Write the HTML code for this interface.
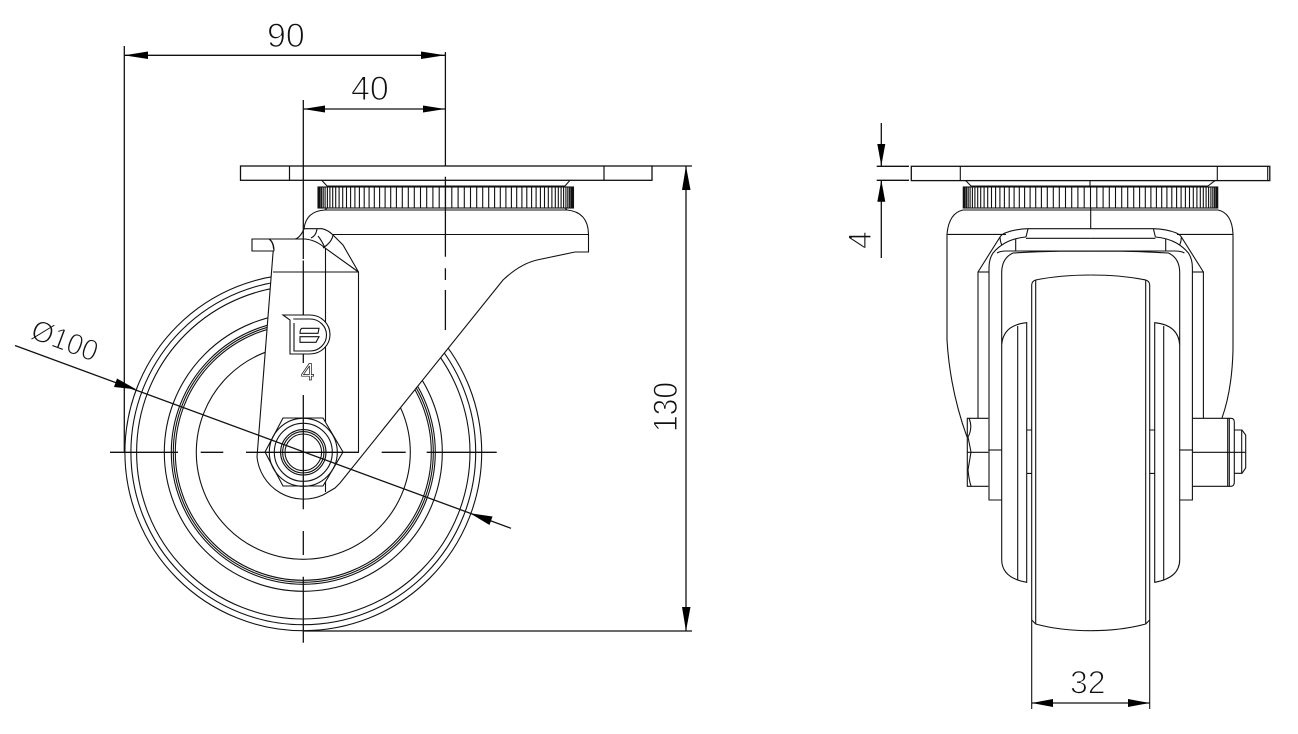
<!DOCTYPE html>
<html>
<head>
<meta charset="utf-8">
<style>
html,body{margin:0;padding:0;background:#fff;width:1298px;height:734px;overflow:hidden}
svg{display:block}
.t{font-family:"Liberation Sans",sans-serif;font-size:34px;fill:#111;stroke:#fff;stroke-width:1.1px;paint-order:fill stroke}
</style>
</head>
<body>
<svg width="1298" height="734" viewBox="0 0 1298 734" xmlns="http://www.w3.org/2000/svg">
<defs>
<path id="kn" d="M6.3 187v21M12.6 187v21M18.8 187v21M25 187v21M31.2 187v21M37.2 187v21M43.2 187v21M49.1 187v21M54.8 187v21M60.4 187v21M65.9 187v21M71.2 187v21M76.4 187v21M81.3 187v21M86.1 187v21M90.6 187v21M94.9 187v21M99 187v21M102.8 187v21M106.4 187v21M109.8 187v21M112.8 187v21M115.6 187v21M118.1 187v21M120.4 187v21M122.3 187v21M123.9 187v21M125.3 187v21M126.3 187v21M127 187v21"/>
<g id="halfR">
<path d="M1028 228.7Q1015 229 1005 233Q1001 235 1000 237L978 272V418"/>
<path d="M1026 237Q1014 238 1005 243Q998 247 993 253Q989 259 989 268V500H1001.7"/>
<path d="M1028 228.7Q1027 233 1026 237"/>
<path d="M1000 237Q1000 241 1001.7 245"/>
<path d="M978 272H989"/>
<path d="M1028 228.7H1090.7"/>
<path d="M1026 238.3H1090.7"/>
<path d="M997 253Q1000 251 1006.7 251H1090.7"/>
<path d="M1015.7 239V251"/>
<path d="M1001.7 272Q1002 258 1013 253Q1040 251.5 1060 251.2H1090.7"/>
<path d="M1001.7 272V560Q1002 578 1026.7 582.3V322.7Q1003 325 1001.7 345"/>
<path d="M1017.7 326V580"/>
<path d="M1026.7 430H1031.7M1026.7 473.4H1031.7"/>
<path d="M988.3 450H1001.7"/>
<path d="M1031.7 709V285Q1032 281 1035.7 280Q1060 275 1090.7 275"/>
<path d="M1035.7 280V624"/>
<path d="M1031.7 620L1035.7 624Q1060 630.7 1090.7 630.7"/>
</g>
</defs>

<g fill="none" stroke="#111" stroke-width="1.1">
  <!-- wheel -->
  <g stroke-width="1.1">
    <circle cx="303.3" cy="452.3" r="178.4"/>
    <circle cx="303.3" cy="452.3" r="172.4"/>
    <circle cx="303.3" cy="452.3" r="166.7"/>
    <circle cx="303.3" cy="452.3" r="139"/>
    <circle cx="303.3" cy="452.3" r="132"/>
    <circle cx="303.3" cy="452.3" r="130"/>
    <circle cx="303.3" cy="452.3" r="128"/>
    <circle cx="303.3" cy="452.3" r="107"/>
  </g>
  <!-- fork body -->
  <path fill="#fff" d="M323 495A47 47 0 0 1 257 457L273 253Q275 244 269 239L295 239Q300 238 304 229Q306 211 325 210L567 210Q588 212 588.5 234V252H575L537 260Q520 264 503 280L340 483L335 488Z"/>
  <path d="M304 228.7H322Q328 230 333 235L343 245L358.5 272V452"/>
  <path d="M333 234.5H588.5"/>
  <path d="M273 272H358.5"/>
  <path d="M290 239H305Q316 240 325 248L358.5 272"/>
  <path d="M325.5 248V492"/>
  <path d="M317 229Q316 236 311 238M333 235Q332 242 323 248"/>
  <path d="M318 236Q322 241 325 248"/>
  <!-- tab -->
  <path fill="#fff" d="M269 239H252V251H274"/>
  <path d="M269 239Q274 242 274 251"/>
  <!-- plate -->
  <rect x="240.5" y="166" width="411.5" height="14.3" fill="#fff" stroke-width="1.3"/>
  <path d="M289.5 166V180.3M604 166V180.3" stroke-width="1.2"/>
  <path d="M321.7 180.3L327 186H565L570 180.3"/>
  <!-- knurl -->
  <rect x="318" y="187" width="255.5" height="21" fill="#fff"/>
  <path d="M445.5 187v21"/>
  <use href="#kn" transform="translate(445.5 0)"/>
  <use href="#kn" transform="translate(445.5 0) scale(-1 1)"/>
  <path d="M325 210L327 208M567 210L565 208"/>
  <!-- logo -->
  <path fill="#fff" d="M283 315H310A20 19.5 0 0 1 310 354H290V320Z"/>
  <path d="M293.3 319H310A16.5 16 0 0 1 310 351H294V323"/>
  <path d="M302 328.3H319L318 333.3H300Q300 329 302 328.3Z"/>
  <path d="M300 336.7H319L316 342.3H300Z"/>
  <!-- nut -->
  <path fill="#fff" d="M265 452L283 418H323L343 452L323 486H283Z"/>
  <circle cx="303.3" cy="452.3" r="34"/>
  <circle cx="303.3" cy="452.3" r="29"/>
  <circle cx="303.3" cy="452.3" r="22.7"/>
  <circle cx="303.3" cy="452.3" r="20.7"/>
  <circle cx="303.3" cy="452.3" r="18.3"/>

  <!-- right view -->
  <path d="M947 234V340Q950 390 967 437"/>
  <path d="M1233 234V350Q1232 390 1222 418"/>
  <path d="M947 234.4H1006M1177 234.4H1233"/>
  <path d="M947 234Q949 213 963 210L1218 210Q1232 213 1233 234"/>
  <rect x="911.3" y="166.3" width="358.5" height="14.3" stroke-width="1.3"/>
  <path d="M960.3 166.3V180.6M1217.3 166.3V180.6M1267.7 166.3V180.6"/>
  <path d="M965.7 180.6L971 186H1208L1215 180.6"/>
  <rect x="963.3" y="187" width="254.4" height="21"/>
  <path d="M1090.5 187v21"/>
  <use href="#kn" transform="translate(1090.5 0)"/>
  <use href="#kn" transform="translate(1090.5 0) scale(-1 1)"/>
  <path d="M1090 180.6V186M1090.7 208V228.7"/>
  <use href="#halfR"/>
  <use href="#halfR" transform="translate(2181.4 0) scale(-1 1)"/>
  <!-- right-view bolts -->
  <path d="M988.3 418.3H967.3V486.3H988.3"/>
  <path d="M967.3 452.3H988.3"/>
  <path d="M969 418Q973 428 968 437L971 452L968 470Q969 480 971 486"/>
  <path d="M1192.7 418.3H1231Q1234.3 418.3 1234.3 422V482Q1234.3 486.3 1231 486.3H1192.7"/>
  <path d="M1227.7 418.3V486.3M1229.3 418.3V486.3"/>
  <path d="M1234.3 430H1242L1245.7 435V468L1242 473.3H1234.3"/>
  <path d="M1241.7 430V473.3"/>
  <path d="M1192.7 452.3H1245.7"/>
</g>

<!-- centre lines and dimension lines -->
<g fill="none" stroke="#111" stroke-width="1.3">
  <path d="M110 452.3H178M200.7 452.3H223.3M246 452.3H359M381.7 452.3H405.7M426.7 452.3H496.7"/>
  <path d="M303.3 100V259M303.3 260.5V315M303.3 354V363M303.3 395V509.3M303.3 531V555M303.3 576.7V642.7"/>
  <path d="M445.4 52V166M445.4 176.7V256.7M445.4 268.3V280M445.4 290V330"/>
  <path d="M124.3 46V452"/>
  <path d="M124 55.3H445M303 109H445"/>
  <path d="M652 166H692M303 631H692"/>
  <path d="M686 166V631"/>
  <path d="M15 345.5L511 528.3"/>
  <path d="M881.3 123V166M881.3 180V258"/>
  <path d="M876.7 166.3H909M876.7 180.3H909"/>
  <path d="M1031.7 703H1149.5"/>
</g>

<!-- arrowheads -->
<g fill="#000" stroke="none">
  <path d="M124.3 55.3L148 51.5V59Z"/>
  <path d="M445 55.3L421 51.5V59Z"/>
  <path d="M303.3 109L325 105.5V112.5Z"/>
  <path d="M445 109L423 105.5V112.5Z"/>
  <path d="M686 166L682 190H690.5Z"/>
  <path d="M686 631L682 607H690.5Z"/>
  <path d="M136 389.3L117 378.5L114 387Z"/>
  <path d="M470 513.3L492.5 516.5L489.5 525Z"/>
  <path d="M881.3 165.7L877.3 144H885.3Z"/>
  <path d="M881.3 180.3L877.3 201.7H885.3Z"/>
  <path d="M1031.7 703L1053 699V707Z"/>
  <path d="M1149.5 703L1128 699V707Z"/>
</g>

<!-- labels -->
<text class="t" x="267" y="47">90</text>
<text class="t" x="351" y="100">40</text>
<text class="t" x="1070" y="693.5" style="font-size:32px">32</text>
<text class="t" transform="translate(677 432) rotate(-90)" textLength="50" lengthAdjust="spacingAndGlyphs">130</text>
<text class="t" transform="translate(871 249) rotate(-90)" style="font-size:32px">4</text>
<text class="t" transform="translate(29 338) rotate(20.5)" style="font-size:30px" textLength="69" lengthAdjust="spacingAndGlyphs">Ø100</text>
<text x="301" y="380" style="font-family:'Liberation Sans',sans-serif;font-size:24px;fill:#fff;stroke:#111;stroke-width:.7px">4</text>
</svg>
</body>
</html>
